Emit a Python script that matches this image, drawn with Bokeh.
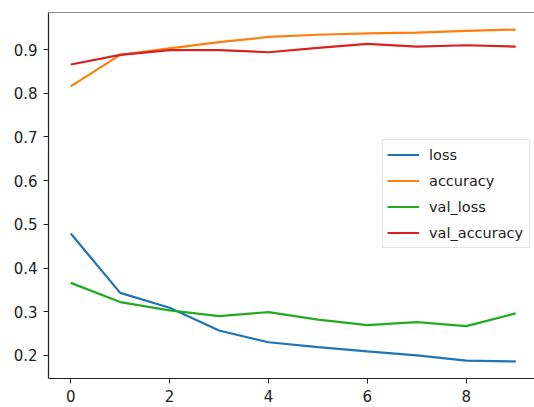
from bokeh.plotting import figure
from bokeh.models import Legend, LegendItem, FixedTicker, Span
from bokeh.embed import file_html
from bokeh.resources import INLINE

epochs = [0, 1, 2, 3, 4, 5, 6, 7, 8, 9]
loss = [0.479, 0.343, 0.309, 0.257, 0.230, 0.219, 0.209, 0.200, 0.188, 0.186]
accuracy = [0.816, 0.888, 0.903, 0.917, 0.929, 0.934, 0.937, 0.939, 0.943, 0.946]
val_loss = [0.366, 0.322, 0.303, 0.290, 0.299, 0.282, 0.269, 0.276, 0.267, 0.296]
val_accuracy = [0.866, 0.888, 0.899, 0.899, 0.894, 0.904, 0.913, 0.907, 0.910, 0.907]

series_names = ["loss", "accuracy", "val_loss", "val_accuracy"]
series_colors = ["#1f74b8", "#ff7f0e", "#22aa22", "#d62222"]

x_ticks = [0, 2, 4, 6, 8]
y_ticks = [0.2, 0.3, 0.4, 0.5, 0.6, 0.7, 0.8, 0.9]

x_start, x_end = -0.45, 9.38
y_start, y_end = 0.147, 0.985

p = figure(width=534, height=407, output_backend="svg", toolbar_location=None,
           x_range=(x_start, x_end), y_range=(y_start, y_end),
           min_border_left=48, min_border_top=12, min_border_bottom=29,
           min_border_right=0)
p.grid.visible = False
p.outline_line_color = None
p.background_fill_color = "white"
p.border_fill_color = "white"

font = "DejaVu Sans"
for ax in (p.xaxis, p.yaxis):
    ax.axis_line_color = "#222222"
    ax.axis_line_width = 1.2
    ax.major_tick_line_color = "#222222"
    ax.major_tick_out = 5
    ax.major_tick_in = 0
    ax.minor_tick_line_color = None
    ax.major_label_text_font = font
    ax.major_label_text_font_size = "15px"
    ax.major_label_text_color = "#222222"
p.xaxis.ticker = FixedTicker(ticks=x_ticks)
p.yaxis.ticker = FixedTicker(ticks=y_ticks)
p.xaxis.major_label_standoff = 6
p.yaxis.major_label_standoff = 6

p.add_layout(Span(location=y_end, dimension="width", line_color="#222222", line_width=1.2))

renderers = []
for name, vals, col in zip(series_names, [loss, accuracy, val_loss, val_accuracy], series_colors):
    r = p.line(epochs, vals, line_color=col, line_width=2.2)
    renderers.append((name, r))

legend = Legend(items=[LegendItem(label=n, renderers=[r]) for n, r in renderers],
                location=(334, 130))
legend.label_text_font = font
legend.label_text_font_size = "14.5px"
legend.label_text_color = "#222222"
legend.glyph_width = 32
legend.glyph_height = 21
legend.label_height = 21
legend.label_width = 96
legend.label_standoff = 10
legend.spacing = 5
legend.padding = 4
legend.margin = 0
legend.border_line_color = "#cccccc"
legend.border_line_width = 1
legend.background_fill_alpha = 0.9
p.add_layout(legend, "center")

open("out.html", "w").write(file_html(p, INLINE))
